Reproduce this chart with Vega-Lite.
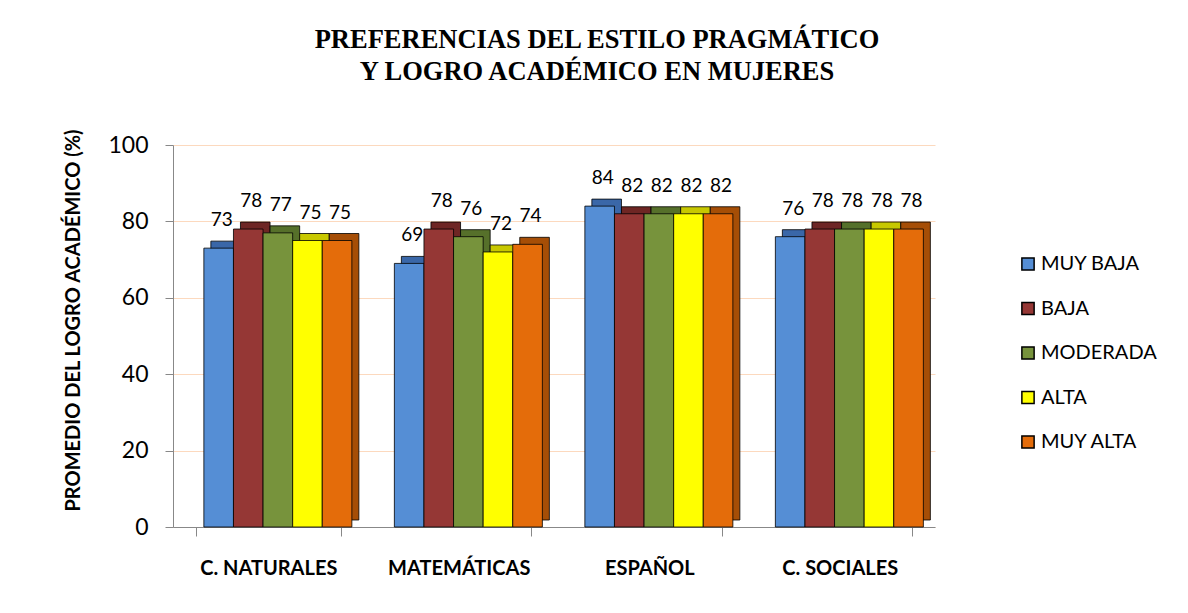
{
  "$schema": "https://vega.github.io/schema/vega-lite/v6.json",
  "width": 762,
  "height": 382,
  "autosize": "none",
  "padding": {"left": 173, "top": 145, "right": 253, "bottom": 86},
  "background": "white",
  "title": {
    "text": ["PREFERENCIAS DEL ESTILO PRAGMÁTICO", "Y LOGRO ACADÉMICO EN MUJERES"],
    "font": "Liberation Serif",
    "fontSize": 26.5,
    "fontWeight": "bold",
    "color": "black",
    "anchor": "middle",
    "dx": 43,
    "offset": 43,
    "lineHeight": 32
  },
  "data": {
    "values": [
      {"cat": "C. NATURALES", "nivel": "MUY BAJA", "v": 73},
      {"cat": "C. NATURALES", "nivel": "BAJA", "v": 78},
      {"cat": "C. NATURALES", "nivel": "MODERADA", "v": 77},
      {"cat": "C. NATURALES", "nivel": "ALTA", "v": 75},
      {"cat": "C. NATURALES", "nivel": "MUY ALTA", "v": 75},
      {"cat": "MATEMÁTICAS", "nivel": "MUY BAJA", "v": 69},
      {"cat": "MATEMÁTICAS", "nivel": "BAJA", "v": 78},
      {"cat": "MATEMÁTICAS", "nivel": "MODERADA", "v": 76},
      {"cat": "MATEMÁTICAS", "nivel": "ALTA", "v": 72},
      {"cat": "MATEMÁTICAS", "nivel": "MUY ALTA", "v": 74},
      {"cat": "ESPAÑOL", "nivel": "MUY BAJA", "v": 84},
      {"cat": "ESPAÑOL", "nivel": "BAJA", "v": 82},
      {"cat": "ESPAÑOL", "nivel": "MODERADA", "v": 82},
      {"cat": "ESPAÑOL", "nivel": "ALTA", "v": 82},
      {"cat": "ESPAÑOL", "nivel": "MUY ALTA", "v": 82},
      {"cat": "C. SOCIALES", "nivel": "MUY BAJA", "v": 76},
      {"cat": "C. SOCIALES", "nivel": "BAJA", "v": 78},
      {"cat": "C. SOCIALES", "nivel": "MODERADA", "v": 78},
      {"cat": "C. SOCIALES", "nivel": "ALTA", "v": 78},
      {"cat": "C. SOCIALES", "nivel": "MUY ALTA", "v": 78}
    ]
  },
  "encoding": {
    "x": {
      "field": "cat",
      "type": "nominal",
      "sort": ["C. NATURALES", "MATEMÁTICAS", "ESPAÑOL", "C. SOCIALES"],
      "scale": {"paddingInner": 0.24, "paddingOuter": 0.12},
      "axis": {
        "title": null,
        "labelAngle": 0,
        "labelFont": "Lato",
        "labelFontSize": 20,
        "labelFontWeight": "bold",
        "labelColor": "black",
        "labelPadding": 22,
        "tickBand": "extent",
        "tickSize": 9,
        "tickColor": "#888888",
        "domainColor": "#888888",
        "grid": false
      }
    },
    "y": {
      "field": "v",
      "type": "quantitative",
      "scale": {"domain": [0, 100]},
      "axis": {
        "title": "PROMEDIO DEL LOGRO ACADÉMICO (%)",
        "titleFont": "Lato",
        "titleFontSize": 20,
        "titleFontWeight": "bold",
        "titleColor": "black",
        "titlePadding": 24,
        "titleY": 175,
        "values": [0, 20, 40, 60, 80, 100],
        "labelFont": "Lato",
        "labelFontSize": 23,
        "labelColor": "black",
        "labelPadding": 17,
        "tickSize": 8,
        "tickColor": "#888888",
        "domainColor": "#888888",
        "gridColor": "#FCD9BE",
        "gridWidth": 1.2
      }
    }
  },
  "layer": [
    {
      "mark": {"type": "bar", "yOffset": -7, "stroke": "black", "strokeWidth": 0.8},
      "encoding": {
        "xOffset": {
          "field": "nivel",
          "type": "nominal",
          "sort": ["MUY BAJA", "BAJA", "MODERADA", "ALTA", "MUY ALTA"],
          "scale": {"paddingInner": 0, "paddingOuter": 0, "range": [15, 163]}
        },
        "color": {
          "field": "nivel",
          "type": "nominal",
          "scale": {
            "domain": ["MUY BAJA", "BAJA", "MODERADA", "ALTA", "MUY ALTA"],
            "range": ["#3A67A8", "#6E2624", "#56702A", "#C8C800", "#A64E06"]
          },
          "legend": null
        }
      }
    },
    {
      "layer": [
        {
          "mark": {"type": "bar", "stroke": "black", "strokeWidth": 0.8},
          "encoding": {
            "color": {
              "field": "nivel",
              "type": "nominal",
              "scale": {
                "domain": ["MUY BAJA", "BAJA", "MODERADA", "ALTA", "MUY ALTA"],
                "range": ["#558ED5", "#953735", "#77933C", "#FFFF00", "#E46C0A"]
              },
              "legend": {
                "title": null,
                "orient": "none",
                "legendX": 845,
                "legendY": 109,
                "symbolType": "square",
                "symbolSize": 150,
                "symbolStrokeColor": "black",
                "symbolStrokeWidth": 1.5,
                "labelFont": "Lato",
                "labelFontSize": 20,
                "labelColor": "black",
                "rowPadding": 24.5,
                "labelOffset": 3
              }
            }
          }
        },
        {
          "mark": {"type": "text", "baseline": "bottom", "dy": -18, "dx": 3, "font": "Lato", "fontSize": 19, "color": "black"},
          "encoding": {
            "text": {"field": "v", "type": "quantitative"}
          }
        }
      ],
      "encoding": {
        "xOffset": {
          "field": "nivel",
          "type": "nominal",
          "sort": ["MUY BAJA", "BAJA", "MODERADA", "ALTA", "MUY ALTA"],
          "scale": {"paddingInner": 0, "paddingOuter": 0, "range": [8, 156]}
        }
      }
    }
  ],
  "resolve": {"scale": {"color": "independent", "xOffset": "independent"}},
  "config": {"view": {"stroke": null}}
}
